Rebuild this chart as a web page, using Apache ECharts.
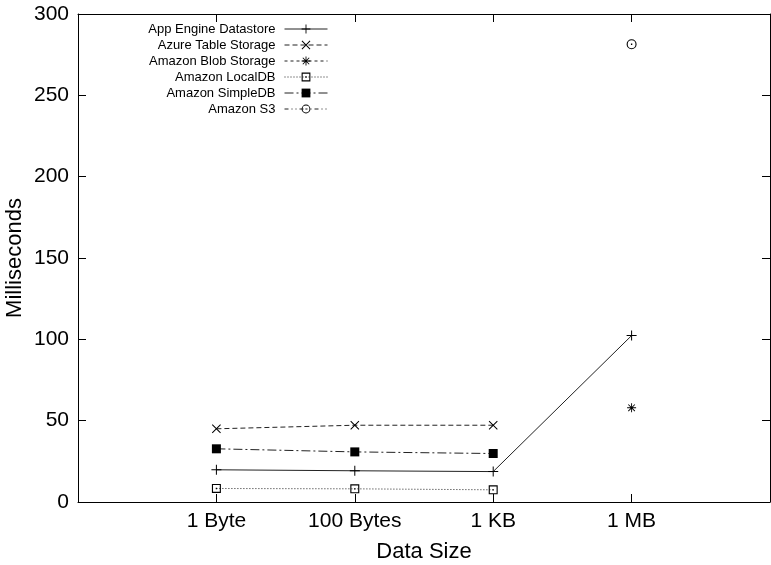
<!DOCTYPE html>
<html>
<head>
<meta charset="utf-8">
<script src="https://cdn.jsdelivr.net/npm/echarts@6/dist/echarts.min.js"></script>
<style>html,body{margin:0;padding:0;background:#fff}#c{width:771px;height:565px}</style>
</head>
<body>
<div id="c"></div>
<script>
var categories = ['1 Byte', '100 Bytes', '1 KB', '1 MB'];
var seriesNames = ['App Engine Datastore', 'Azure Table Storage', 'Amazon Blob Storage', 'Amazon LocalDB', 'Amazon SimpleDB', 'Amazon S3'];
var appEngine = [19.8, 19.2, 18.7, 102.3];
var azureTable = [45.0, 47.2, 47.2, null];
var amazonBlob = [null, null, null, 57.9];
var amazonLocalDB = [8.3, 8.1, 7.5, null];
var amazonSimpleDB = [32.7, 30.8, 29.8, null];
var amazonS3 = [null, null, null, 281.4];
var yTicks = [0, 50, 100, 150, 200, 250, 300];

var SYM_PLUS = 'path://M-0.5,-5L0.5,-5L0.5,5L-0.5,5ZM-5,-0.5L5,-0.5L5,0.5L-5,0.5Z';
var SYM_X = 'path://M-4.5,-3.8L-3.8,-4.5L4.5,3.8L3.8,4.5ZM3.8,-4.5L4.5,-3.8L-3.8,4.5L-4.5,3.8Z';
var SYM_STAR = 'path://M-0.5,-5L0.5,-5L0.5,5L-0.5,5ZM-5,-0.5L5,-0.5L5,0.5L-5,0.5ZM-4,-3.3L-3.3,-4L4,3.3L3.3,4ZM3.3,-4L4,-3.3L-3.3,4L-4,3.3Z';
var SYM_BOX = 'path://M-4,-4L4,-4L4,4L-4,4ZM-3,-3L-3,3L3,3L3,-3ZM-0.6,-0.6L0.6,-0.6L0.6,0.6L-0.6,0.6Z';
var SYM_CIRC = 'path://M0,-4.5A4.5,4.5 0 1 1 0,4.5A4.5,4.5 0 1 1 0,-4.5ZM0,-3.5A3.5,3.5 0 1 0 0,3.5A3.5,3.5 0 1 0 0,-3.5ZM-0.6,-0.6L0.6,-0.6L0.6,0.6L-0.6,0.6Z';

function pts(arr) {
  var out = [];
  arr.forEach(function (v, i) { if (v !== null) out.push([i, v]); });
  return out;
}
var valuesList = [appEngine, azureTable, amazonBlob, amazonLocalDB, amazonSimpleDB, amazonS3];
var styles = [
  { symbol: SYM_PLUS, size: 10, dash: 'solid' },
  { symbol: SYM_X, size: 9, dash: [5, 3] },
  { symbol: SYM_STAR, size: 9, dash: [3, 3] },
  { symbol: SYM_BOX, size: 9, dash: [1, 2] },
  { symbol: 'rect', size: 9, dash: [9, 3, 2, 3] },
  { symbol: SYM_CIRC, size: 10, dash: [4, 3, 1, 3, 1, 3] }
];
var series = seriesNames.map(function (name, k) {
  return {
    name: name,
    type: 'line',
    xAxisIndex: 0,
    yAxisIndex: 0,
    data: pts(valuesList[k]),
    symbol: styles[k].symbol,
    symbolSize: styles[k].size,
    showSymbol: true,
    showAllSymbol: true,
    lineStyle: { color: '#222', width: 1, type: styles[k].dash },
    itemStyle: { color: '#000', borderWidth: 0 },
    emphasis: { disabled: true },
    animation: false
  };
});

var font = 'Liberation Sans, Arial, sans-serif';
var tickStyle = { show: true, inside: true, length: 8, lineStyle: { color: '#000', width: 1 } };
var lineStyle = { show: true, onZero: false, lineStyle: { color: '#000', width: 1 } };
var chart = echarts.init(document.getElementById('c'), null, { renderer: 'canvas' });
chart.setOption({
  animation: false,
  backgroundColor: '#fff',
  grid: { left: 78, right: 1, top: 14, bottom: 63, containLabel: false, outerBoundsMode: 'none' },
  legend: {
    orient: 'vertical',
    align: 'right',
    right: 438,
    top: 16,
    itemWidth: 43,
    itemHeight: 11,
    itemGap: 0,
    lineStyle: { width: 1 },
    textStyle: { fontFamily: font, fontSize: 13, color: '#000', lineHeight: 16, padding: [0, 4, 0, 0] },
    data: seriesNames
  },
  xAxis: [{
    type: 'value', position: 'bottom', min: -1, max: 4, interval: 1,
    name: 'Data Size', nameLocation: 'middle', nameGap: 39, nameMoveOverlap: false,
    nameTextStyle: { fontFamily: font, fontSize: 22, color: '#000' },
    axisLine: lineStyle,
    axisTick: tickStyle,
    axisLabel: { fontFamily: font, fontSize: 21, color: '#000', margin: 9,
      formatter: function (v) { return categories[v] !== undefined ? categories[v] : ''; } },
    splitLine: { show: false }
  }, {
    type: 'value', position: 'top', min: -1, max: 4, interval: 1,
    axisLine: lineStyle,
    axisTick: tickStyle,
    axisLabel: { show: false },
    splitLine: { show: false }
  }],
  yAxis: [{
    type: 'value', position: 'left', min: yTicks[0], max: yTicks[yTicks.length - 1], interval: 50,
    name: 'Milliseconds', nameLocation: 'middle', nameGap: 52, nameRotate: 90, nameMoveOverlap: false,
    nameTextStyle: { fontFamily: font, fontSize: 22, color: '#000' },
    axisLine: lineStyle,
    axisTick: tickStyle,
    axisLabel: { fontFamily: font, fontSize: 21, color: '#000', margin: 9 },
    splitLine: { show: false }
  }, {
    type: 'value', position: 'right', min: yTicks[0], max: yTicks[yTicks.length - 1], interval: 50,
    axisLine: lineStyle,
    axisTick: tickStyle,
    axisLabel: { show: false },
    splitLine: { show: false }
  }],
  series: series
});
</script>
</body>
</html>
